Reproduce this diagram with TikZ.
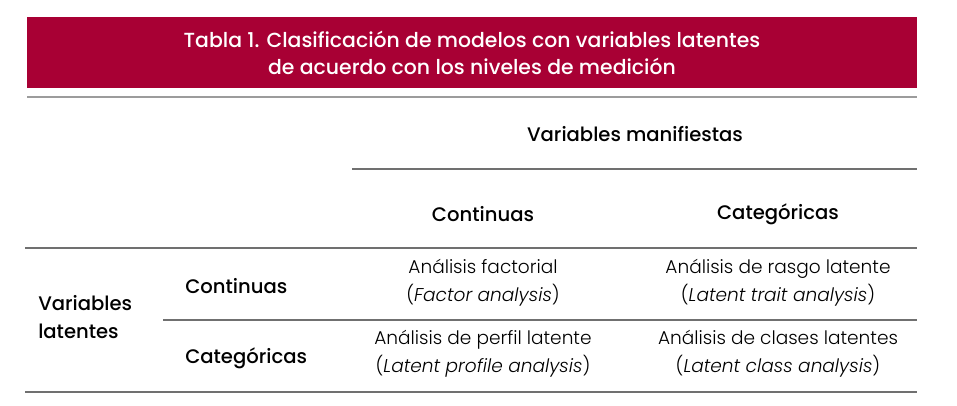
\documentclass[tikz,border=0pt]{standalone}
\usepackage{fontspec}
\setmainfont{Poppins}
\newfontfamily\thinfont{Poppins Light}
\newfontfamily\midfont{Poppins Medium}
\definecolor{tablered}{HTML}{A80034}
\definecolor{rulegray}{HTML}{9C9C9C}
\definecolor{linegray}{HTML}{707070}
\begin{document}
\begin{tikzpicture}[x=0.75pt,y=-0.75pt]

      \tikzset{title/.style={text=white, align=center, inner sep=0pt, font=\midfont\fontsize{15.3}{20.5}\selectfont},
               head/.style={inner sep=0pt, font=\midfont\fontsize{14.7}{21}\selectfont},
               cell/.style={inner sep=0pt, align=center, font=\thinfont\fontsize{13.9}{21}\selectfont},
               rowline/.style={draw=linegray, line width=0.8pt}}
      \useasboundingbox (0,0) rectangle (957,405);
%% Banner
      	\fill[tablered] (27,17) rectangle (917,88);
      	\node[title] (tit) at (472,53) {Tabla 1. Clasificación de modelos con variables latentes\\de acuerdo con los niveles de medición};
%% Headers
      	\node[head] (man) at (635,134) {Variables manifiestas};
      	\node[head] (mcon) at (483,214) {Continuas};
      	\node[head] (mcat) at (778,214) {Categóricas};
      	\node[head, align=left, anchor=west] (lat) at (38,317) {Variables\\latentes};
      	\node[head, anchor=west] (lcon) at (185,286) {Continuas};
      	\node[head, anchor=west] (lcat) at (185,358) {Categóricas};
%% Cells
      	\node[cell] (fa) at (483,283) {Análisis factorial\\(\textit{Factor analysis})};
      	\node[cell] (lta) at (778,283) {Análisis de rasgo latente\\(\textit{Latent trait analysis})};
      	\node[cell] (lpa) at (483,354) {Análisis de perfil latente\\(\textit{Latent profile analysis})};
      	\node[cell] (lca) at (778,354) {Análisis de clases latentes\\(\textit{Latent class analysis})};
%% Rules
      	\coordinate (r0l) at (27,97);   \coordinate (r0r) at (917,97);
      	\coordinate (r1l) at (352,169); \coordinate (r1r) at (917,169);
      	\coordinate (r2l) at (25,248);  \coordinate (r2r) at (917,248);
      	\coordinate (r3l) at (163,320); \coordinate (r3r) at (917,320);
      	\coordinate (r4l) at (25,392);  \coordinate (r4r) at (917,392);
		\draw[draw=rulegray, line width=2.2pt] (r0l) -- (r0r);
		\draw[rowline] (r1l) -- (r1r);
		\draw[rowline] (r2l) -- (r2r);
		\draw[rowline] (r3l) -- (r3r);
		\draw[rowline] (r4l) -- (r4r);

	\end{tikzpicture}
\end{document}
